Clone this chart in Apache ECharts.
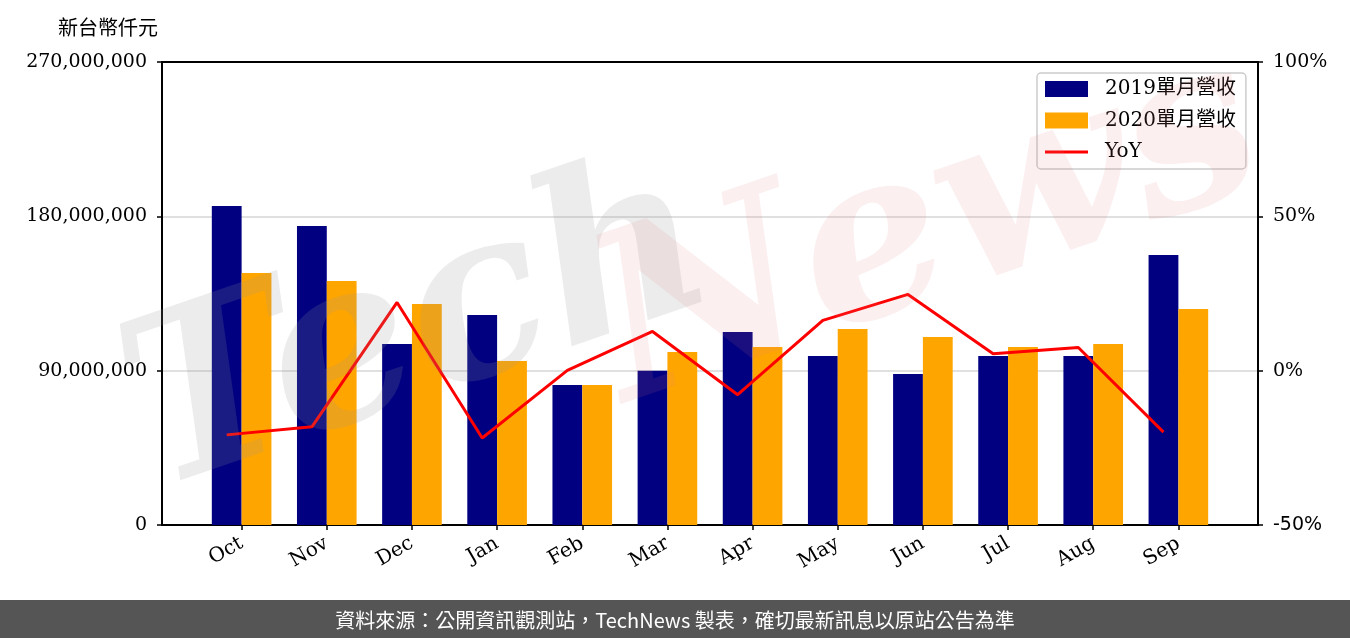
<!DOCTYPE html>
<html>
<head>
<meta charset="utf-8">
<script src="https://cdn.jsdelivr.net/npm/echarts@6/dist/echarts.min.js"></script>
<style>
html,body{margin:0;padding:0;background:#fff;}
#chart{width:1350px;height:638px;}
</style>
</head>
<body>
<div id="chart"></div>
<script>
const categories = ['Oct','Nov','Dec','Jan','Feb','Mar','Apr','May','Jun','Jul','Aug','Sep'];
const rev2019 = [186000000,174400000,105500000,122500000,81600000,90000000,112500000,98600000,88100000,98600000,98600000,157500000];
const rev2020 = [147000000,142300000,128900000,95600000,81600000,100900000,103800000,114300000,109600000,103800000,105500000,126000000];
const yoy = [-20.8,-18.2,22.1,-21.8,0.1,12.7,-7.8,16.3,24.7,5.5,7.5,-19.9];
const leftTicks = [0,90000000,180000000,270000000];
const rightTicks = [-50,0,50,100];
const seriesNames = ['2019單月營收','2020單月營收','YoY'];
const unitLabel = '新台幣仟元';
const footerText = '資料來源：公開資訊觀測站，TechNews 製表，確切最新訊息以原站公告為準';

const BAR_W = 0.35; // bar width in category units
const idx = categories.map((c,i)=>i);
const serif = "'DejaVu Serif', 'Noto Sans CJK TC', serif";
const cjk = "'Noto Sans CJK TC', sans-serif";

const chart = echarts.init(document.getElementById('chart'), null, {renderer:'canvas'});
const axisLineStyle = {color:'#000', width:2};
const tickStyle = {color:'#000', width:1.5};

chart.setOption({
  animation:false,
  backgroundColor:'#fff',
  grid:{left:162,right:92,top:62,bottom:113,containLabel:false},
  xAxis:[{
    type:'value', min:-0.935, max:11.935, position:'bottom',
    axisLine:{show:true,onZero:false,lineStyle:axisLineStyle},
    axisTick:{show:true,length:5,lineStyle:tickStyle,customValues:idx},
    axisLabel:{show:true,customValues:idx,rotate:30,margin:17,
      formatter:v=>categories[Math.round(v)],
      fontFamily:serif,fontSize:20,color:'#000'},
    splitLine:{show:false}
  },{
    type:'value', min:-0.935, max:11.935, position:'top',
    axisLine:{show:true,onZero:false,lineStyle:axisLineStyle},
    axisTick:{show:false},axisLabel:{show:false},splitLine:{show:false}
  }],
  yAxis:[{
    type:'value', min:leftTicks[0], max:leftTicks[leftTicks.length-1], interval:leftTicks[1]-leftTicks[0], position:'left',
    axisLine:{show:true,onZero:false,lineStyle:axisLineStyle},
    axisTick:{show:true,length:5,lineStyle:tickStyle},
    axisLabel:{margin:15,fontFamily:serif,fontSize:19,color:'#000',
      formatter:v=>v.toLocaleString('en-US')},
    splitLine:{show:true,lineStyle:{color:'#d6d6d6',width:1.5}}
  },{
    type:'value', min:rightTicks[0], max:rightTicks[rightTicks.length-1], interval:rightTicks[1]-rightTicks[0], position:'right',
    axisLine:{show:true,onZero:false,lineStyle:axisLineStyle},
    axisTick:{show:true,length:5,lineStyle:tickStyle},
    axisLabel:{margin:15,fontFamily:serif,fontSize:19,color:'#000',
      formatter:v=> v<0 ? '{s|'+v+'%}' : v+'%',
      rich:{s:{fontFamily:"'DejaVu Sans', sans-serif",fontSize:19,color:'#000'}}},
    splitLine:{show:false}
  }],
  legend:{
    orient:'vertical', left:1037, top:73,
    padding:[6,10,7,8], itemGap:11.5, itemWidth:43, itemHeight:16,
    symbolKeepAspect:true,
    backgroundColor:'rgba(255,255,255,0.85)',
    borderColor:'#cccccc', borderWidth:1.5, borderRadius:4,
    textStyle:{fontFamily:serif,fontSize:20,color:'#000',padding:[0,0,0,12]},
    data:[{name:seriesNames[0],icon:'rect'},{name:seriesNames[1],icon:'rect'},
          {name:seriesNames[2],icon:'path://M0,0H43V3H0Z'}]
  },
  series:[{
    name:seriesNames[0], type:'bar', xAxisIndex:0, yAxisIndex:0,
    barWidth:(BAR_W*100)+'%', barGap:'0%',
    itemStyle:{color:'#000080'},
    data:idx.map(i=>[i,rev2019[i]])
  },{
    name:seriesNames[1], type:'bar', xAxisIndex:0, yAxisIndex:0,
    barWidth:(BAR_W*100)+'%', barGap:'0%',
    itemStyle:{color:'#ffa500'},
    data:idx.map(i=>[i,rev2020[i]])
  },{
    name:seriesNames[2], type:'line', xAxisIndex:0, yAxisIndex:1,
    symbol:'none', lineStyle:{color:'#ff0000',width:3}, itemStyle:{color:'#ff0000'},
    z:5,
    data:idx.map(i=>[i-BAR_W/2,yoy[i]])
  }],
  graphic:[
    {type:'text', left:58, top:17, style:{text:unitLabel,font:"20px "+cjk,fill:'#000'}},
    {type:'text', x:420, y:335, rotation:0.33, silent:true, z:100,
      style:{text:'Tech',font:"italic bold 230px 'DejaVu Serif', serif",fill:'rgba(150,150,150,0.18)',align:'center',verticalAlign:'middle'}},
    {type:'text', x:930, y:235, rotation:0.33, silent:true, z:100,
      style:{text:'News',font:"italic bold 230px 'DejaVu Serif', serif",fill:'rgba(220,120,130,0.12)',align:'center',verticalAlign:'middle'}},
    {type:'rect', left:0, top:600, shape:{width:1350,height:38}, style:{fill:'#555555'}, z:0},
    {type:'text', x:675, y:620, z:1, style:{text:footerText,font:"20px "+cjk,fill:'#ffffff',align:'center',verticalAlign:'middle'}}
  ]
});
</script>
</body>
</html>
